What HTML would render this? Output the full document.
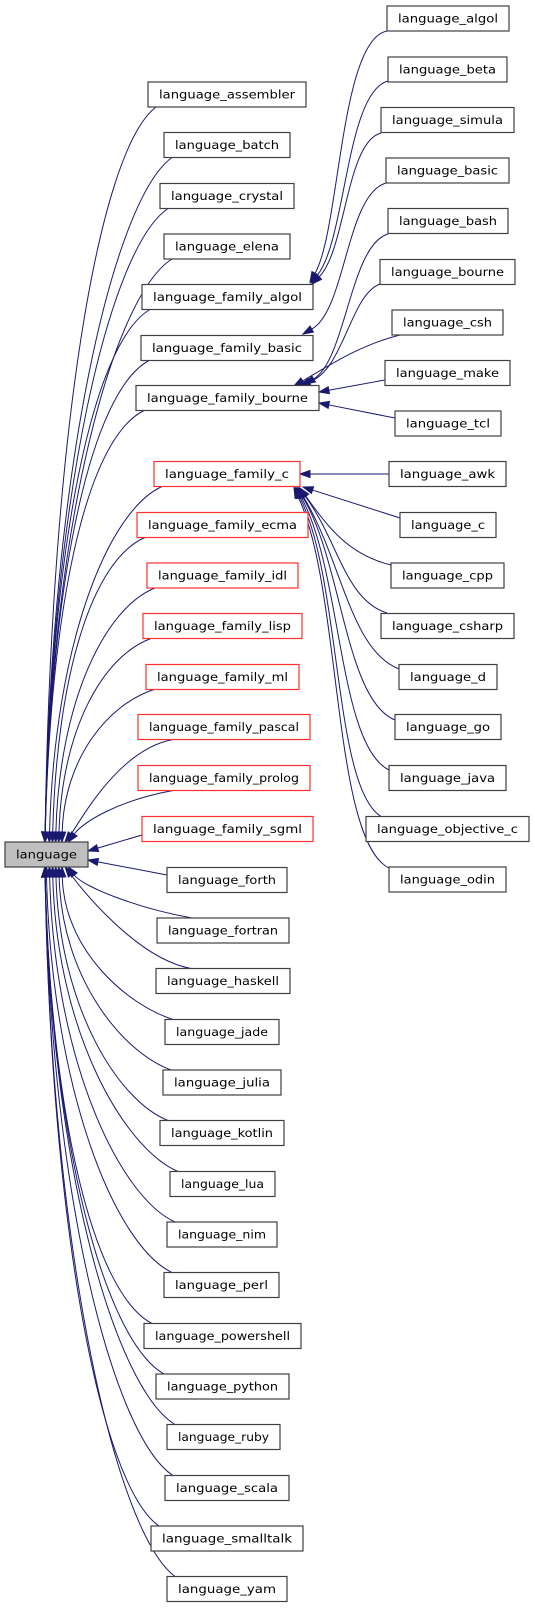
<!DOCTYPE html>
<html><head><meta charset="utf-8"><style>
html,body{margin:0;padding:0;background:#fff;}
svg{display:block;}
text{font-family:"DejaVu Sans","Liberation Sans",sans-serif;font-size:11.5px;fill:#000;}
</style></head><body>
<svg id="g" width="535" height="1608" viewBox="0 0 535 1608" xmlns="http://www.w3.org/2000/svg">
<g id="edges" fill="none" stroke="#191970" stroke-width="1"></g>
<g id="arrows" fill="#191970" stroke="#191970"></g>
<g stroke-width="1.2" fill="#fff">
<rect x="5" y="842" width="83" height="25" fill="#bfbfbf" stroke="#404040"/>
<rect x="148" y="82" width="158" height="25" stroke="#404040"/>
<rect x="164" y="132.5" width="126" height="25" stroke="#404040"/>
<rect x="160" y="183.5" width="134" height="25" stroke="#404040"/>
<rect x="164" y="234" width="126" height="25" stroke="#404040"/>
<rect x="142" y="284.5" width="171" height="25" stroke="#404040"/>
<rect x="141" y="335.5" width="172" height="25" stroke="#404040"/>
<rect x="136" y="385.5" width="183" height="25" stroke="#404040"/>
<rect x="154" y="461.5" width="146" height="25" stroke="#ff3030"/>
<rect x="137" y="512.5" width="171" height="25" stroke="#ff3030"/>
<rect x="147" y="563" width="151" height="25" stroke="#ff3030"/>
<rect x="143" y="613.5" width="159" height="25" stroke="#ff3030"/>
<rect x="146" y="664.5" width="153" height="25" stroke="#ff3030"/>
<rect x="138" y="714.5" width="172" height="25" stroke="#ff3030"/>
<rect x="138" y="765.5" width="172" height="25" stroke="#ff3030"/>
<rect x="142" y="816.5" width="171" height="25" stroke="#ff3030"/>
<rect x="167" y="867.5" width="120" height="25" stroke="#404040"/>
<rect x="157" y="918" width="132" height="25" stroke="#404040"/>
<rect x="156" y="968.5" width="134" height="25" stroke="#404040"/>
<rect x="165" y="1019.5" width="114" height="25" stroke="#404040"/>
<rect x="163" y="1070" width="118" height="25" stroke="#404040"/>
<rect x="160" y="1120.5" width="124" height="25" stroke="#404040"/>
<rect x="170" y="1171.5" width="105" height="25" stroke="#404040"/>
<rect x="167" y="1222" width="110" height="25" stroke="#404040"/>
<rect x="164" y="1272.5" width="115" height="25" stroke="#404040"/>
<rect x="144" y="1323.5" width="157" height="25" stroke="#404040"/>
<rect x="156" y="1374" width="133" height="25" stroke="#404040"/>
<rect x="167" y="1424.5" width="113" height="25" stroke="#404040"/>
<rect x="165" y="1475.5" width="124" height="25" stroke="#404040"/>
<rect x="151" y="1526" width="152" height="25" stroke="#404040"/>
<rect x="167" y="1576.5" width="120" height="25" stroke="#404040"/>
<rect x="387" y="6" width="122" height="25" stroke="#404040"/>
<rect x="388" y="57" width="119" height="25" stroke="#404040"/>
<rect x="381" y="107.5" width="133" height="25" stroke="#404040"/>
<rect x="386" y="158" width="123" height="25" stroke="#404040"/>
<rect x="388" y="208.5" width="120" height="25" stroke="#404040"/>
<rect x="380" y="259.5" width="135" height="25" stroke="#404040"/>
<rect x="392" y="310" width="111" height="25" stroke="#404040"/>
<rect x="385" y="360.5" width="125" height="25" stroke="#404040"/>
<rect x="395" y="411" width="106" height="25" stroke="#404040"/>
<rect x="389" y="461.5" width="117" height="25" stroke="#404040"/>
<rect x="400" y="512.5" width="96" height="25" stroke="#404040"/>
<rect x="391" y="563" width="113" height="25" stroke="#404040"/>
<rect x="381" y="613.5" width="133" height="25" stroke="#404040"/>
<rect x="399" y="664.5" width="98" height="25" stroke="#404040"/>
<rect x="395" y="714.5" width="106" height="25" stroke="#404040"/>
<rect x="389" y="765.5" width="117" height="25" stroke="#404040"/>
<rect x="366" y="816.5" width="163" height="25" stroke="#404040"/>
<rect x="389" y="867" width="117" height="25" stroke="#404040"/>
</g>
<g text-anchor="middle" style="font-size:11.5px">
<text x="46.5" y="858.5" textLength="61" lengthAdjust="spacingAndGlyphs">language</text>
<text x="227" y="98.5" textLength="136" lengthAdjust="spacingAndGlyphs">language_assembler</text>
<text x="227" y="149" textLength="104" lengthAdjust="spacingAndGlyphs">language_batch</text>
<text x="227" y="200" textLength="112" lengthAdjust="spacingAndGlyphs">language_crystal</text>
<text x="227" y="250.5" textLength="104" lengthAdjust="spacingAndGlyphs">language_elena</text>
<text x="227.5" y="301" textLength="149" lengthAdjust="spacingAndGlyphs">language_family_algol</text>
<text x="227" y="352" textLength="150" lengthAdjust="spacingAndGlyphs">language_family_basic</text>
<text x="227.5" y="402" textLength="161" lengthAdjust="spacingAndGlyphs">language_family_bourne</text>
<text x="227" y="478" textLength="124" lengthAdjust="spacingAndGlyphs">language_family_c</text>
<text x="222.5" y="529" textLength="149" lengthAdjust="spacingAndGlyphs">language_family_ecma</text>
<text x="222.5" y="579.5" textLength="129" lengthAdjust="spacingAndGlyphs">language_family_idl</text>
<text x="222.5" y="630" textLength="137" lengthAdjust="spacingAndGlyphs">language_family_lisp</text>
<text x="222.5" y="681" textLength="131" lengthAdjust="spacingAndGlyphs">language_family_ml</text>
<text x="224" y="731" textLength="150" lengthAdjust="spacingAndGlyphs">language_family_pascal</text>
<text x="224" y="782" textLength="150" lengthAdjust="spacingAndGlyphs">language_family_prolog</text>
<text x="227.5" y="833" textLength="149" lengthAdjust="spacingAndGlyphs">language_family_sgml</text>
<text x="227" y="884" textLength="98" lengthAdjust="spacingAndGlyphs">language_forth</text>
<text x="223" y="934.5" textLength="110" lengthAdjust="spacingAndGlyphs">language_fortran</text>
<text x="223" y="985" textLength="112" lengthAdjust="spacingAndGlyphs">language_haskell</text>
<text x="222" y="1036" textLength="92" lengthAdjust="spacingAndGlyphs">language_jade</text>
<text x="222" y="1086.5" textLength="96" lengthAdjust="spacingAndGlyphs">language_julia</text>
<text x="222" y="1137" textLength="102" lengthAdjust="spacingAndGlyphs">language_kotlin</text>
<text x="222.5" y="1188" textLength="83" lengthAdjust="spacingAndGlyphs">language_lua</text>
<text x="222" y="1238.5" textLength="88" lengthAdjust="spacingAndGlyphs">language_nim</text>
<text x="221.5" y="1289" textLength="93" lengthAdjust="spacingAndGlyphs">language_perl</text>
<text x="222.5" y="1340" textLength="135" lengthAdjust="spacingAndGlyphs">language_powershell</text>
<text x="222.5" y="1390.5" textLength="111" lengthAdjust="spacingAndGlyphs">language_python</text>
<text x="223.5" y="1441" textLength="91" lengthAdjust="spacingAndGlyphs">language_ruby</text>
<text x="227" y="1492" textLength="102" lengthAdjust="spacingAndGlyphs">language_scala</text>
<text x="227" y="1542.5" textLength="130" lengthAdjust="spacingAndGlyphs">language_smalltalk</text>
<text x="227" y="1593" textLength="98" lengthAdjust="spacingAndGlyphs">language_yam</text>
<text x="448" y="22.5" textLength="100" lengthAdjust="spacingAndGlyphs">language_algol</text>
<text x="447.5" y="73.5" textLength="97" lengthAdjust="spacingAndGlyphs">language_beta</text>
<text x="447.5" y="124" textLength="111" lengthAdjust="spacingAndGlyphs">language_simula</text>
<text x="447.5" y="174.5" textLength="101" lengthAdjust="spacingAndGlyphs">language_basic</text>
<text x="448" y="225" textLength="98" lengthAdjust="spacingAndGlyphs">language_bash</text>
<text x="447.5" y="276" textLength="113" lengthAdjust="spacingAndGlyphs">language_bourne</text>
<text x="447.5" y="326.5" textLength="89" lengthAdjust="spacingAndGlyphs">language_csh</text>
<text x="447.5" y="377" textLength="103" lengthAdjust="spacingAndGlyphs">language_make</text>
<text x="448" y="427.5" textLength="84" lengthAdjust="spacingAndGlyphs">language_tcl</text>
<text x="447.5" y="478" textLength="95" lengthAdjust="spacingAndGlyphs">language_awk</text>
<text x="448" y="529" textLength="74" lengthAdjust="spacingAndGlyphs">language_c</text>
<text x="447.5" y="579.5" textLength="91" lengthAdjust="spacingAndGlyphs">language_cpp</text>
<text x="447.5" y="630" textLength="111" lengthAdjust="spacingAndGlyphs">language_csharp</text>
<text x="448" y="681" textLength="76" lengthAdjust="spacingAndGlyphs">language_d</text>
<text x="448" y="731" textLength="84" lengthAdjust="spacingAndGlyphs">language_go</text>
<text x="447.5" y="782" textLength="95" lengthAdjust="spacingAndGlyphs">language_java</text>
<text x="447.5" y="833" textLength="141" lengthAdjust="spacingAndGlyphs">language_objective_c</text>
<text x="447.5" y="883.5" textLength="95" lengthAdjust="spacingAndGlyphs">language_odin</text>
</g>
</svg>
<script>
(function(){
var NS="http://www.w3.org/2000/svg";
var E=document.getElementById("edges"),A=document.getElementById("arrows");
function edge(p){
  var n=p.length, x3=p[n-2],y3=p[n-1], x2=p[n-4],y2=p[n-3];
  var dx=x3-x2,dy=y3-y2,l=Math.sqrt(dx*dx+dy*dy)||1;dx/=l;dy/=l;
  var bx=x3-dx*10,by=y3-dy*10;
  var d;
  if(n==4) d="M"+p[0]+","+p[1]+" L"+bx+","+by;
  else d="M"+p[0]+","+p[1]+" C"+p[2]+","+p[3]+" "+p[4]+","+p[5]+" "+bx+","+by;
  var pa=document.createElementNS(NS,"path");pa.setAttribute("d",d);E.appendChild(pa);
  var px=-dy*3.5,py=dx*3.5;
  var t=document.createElementNS(NS,"polygon");
  t.setAttribute("points",x3+","+y3+" "+(bx+px)+","+(by+py)+" "+(bx-px)+","+(by-py));
  A.appendChild(t);
}
var mids=[[148,94.5],[164,145],[160,196],[164,246.5],[142,297],[141,348],[136,398],[154,474],[137,525],[147,575.5],[143,626],[146,677],[138,727],[138,778],
[157,930.5],[156,981],[165,1032],[163,1082.5],[160,1133],[170,1184],[167,1234.5],[164,1285],[144,1336],[156,1386.5],[167,1437],[165,1488],[151,1538.5],[167,1589]];
mids.forEach(function(m){
  var L=m[0],cy=m[1],above=cy<855,d=Math.abs(cy-855);
  var f=Math.max(0,1-d/450);
  var xe=45+f*28;
  var s=above?1:-1;
  var y0=cy+12.5*s, ye=above?842:867;
  if(d<160){
    var x0=L+35;
    edge([x0,y0, L-20,y0+s*10, xe+15, ye-s*20, xe,ye]);
  } else {
    var x0=L+8;
    edge([x0,y0, L-30-(1-f)*20,y0+s*(6+d*0.05), xe+(1-f)*6, y0+(ye-y0)*0.45, xe,ye]);
  }
});
edge([142,835,88,851]);
edge([167,875,88,860]);
edge([387,31,340,40,340,230,310,282]);
edge([388,81,346,92,346,240,311,283]);
edge([381,133,346,142,346,250,312,284]);
edge([386,183,346,195,346,310,303,334]);
edge([388,234,350,245,346,360,305,384]);
edge([380,284,350,295,344,370,300,385]);
edge([400,335,360,345,330,365,294,386]);
edge([385,380,319,392]);
edge([395,418,319,403]);
edge([389,474,300,474]);
edge([400,518,303,487]);
edge([391,565,350,555,330,530,300,488]);
edge([387,613,345,600,338,540,299,488]);
edge([399,669,350,650,342,560,298,488]);
edge([395,720,345,700,342,560,297,488]);
edge([389,770,338,745,342,570,296,488]);
edge([382,817,333,790,342,580,295,488]);
edge([389,868,332,840,342,590,294,488]);
})();
</script>
</body></html>
